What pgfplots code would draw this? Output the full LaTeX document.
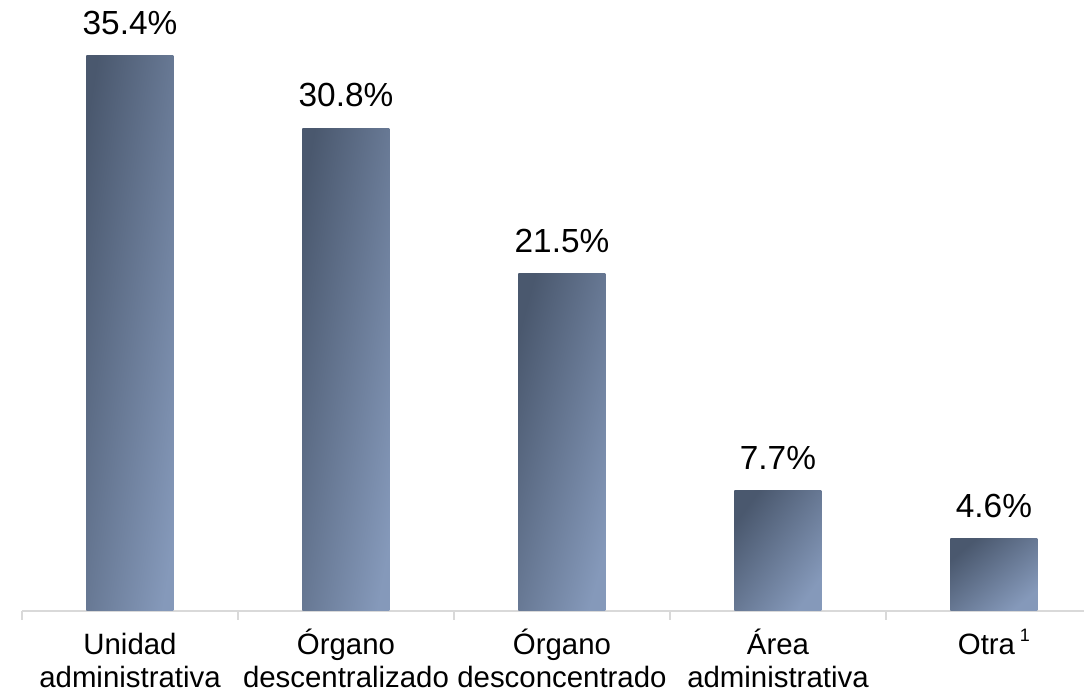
\documentclass[border=0pt]{standalone}
\usepackage{fontspec}
\setmainfont{Liberation Sans}
\usepackage{pgfplots}
\pgfplotsset{compat=1.18}
\definecolor{bardark}{HTML}{4A586E}
\definecolor{barlight}{HTML}{8599BA}
\definecolor{axgray}{HTML}{D9D9D9}
\begin{document}
\begin{tikzpicture}
\useasboundingbox (0,0) rectangle (542pt,345.5pt);
\begin{axis}[
  at={(11pt,40pt)}, anchor=south west,
  scale only axis, width=531pt, height=305.5pt,
  xmin=-0.5, xmax=4.417, ymin=0, ymax=38.97,
  axis x line*=bottom, axis y line=none,
  axis line style={draw=axgray, line width=1pt, -},
  xtick={0,1,2,3,4},
  xticklabels={{Unidad\\administrativa},{Órgano\\descentralizado},{Órgano\\desconcentrado},{Área\\administrativa},{Otra\,\raisebox{0.45em}{\fontsize{9pt}{10pt}\selectfont 1}\\\mbox{}}},
  major tick length=0pt,
  minor xtick={-0.5,0.5,1.5,2.5,3.5},
  minor tick length=4.5pt,
  tick align=outside,
  minor tick style={draw=axgray, line width=1pt},
  xticklabel style={font=\fontsize{14.7pt}{16.3pt}\selectfont, align=center, text height=11pt, text depth=0pt, yshift=-23.6pt},
  /pgf/number format/assume math mode=true,
  ybar, bar width=43.5pt, bar shift=0pt,
  nodes near coords={\pgfmathprintnumber[fixed,fixed zerofill,precision=1,assume math mode=true]{\pgfplotspointmeta}\%},
  nodes near coords style={font=\fontsize{16.7pt}{19pt}\selectfont, text=black, yshift=7pt},
  every axis plot/.append style={draw=none, shading=axis, bottom color=barlight, top color=bardark},
]
\addplot[shading angle=81] coordinates {(0,35.4)};
\addplot[shading angle=80] coordinates {(1,30.8)};
\addplot[shading angle=75] coordinates {(2,21.5)};
\addplot[shading angle=54] coordinates {(3,7.7)};
\addplot[shading angle=40] coordinates {(4,4.6)};
\end{axis}
\end{tikzpicture}
\end{document}
